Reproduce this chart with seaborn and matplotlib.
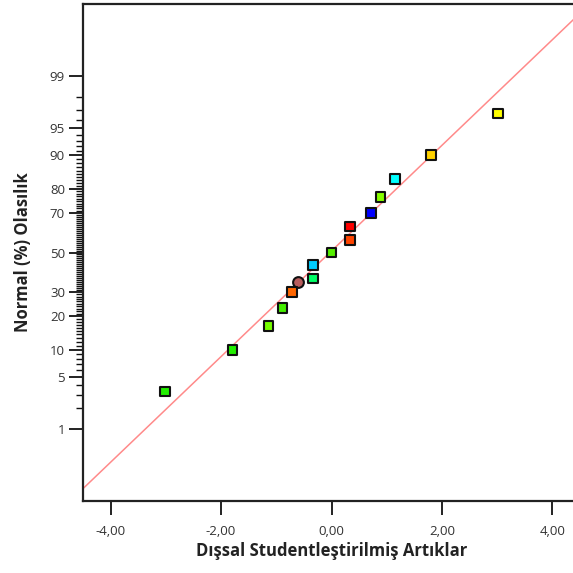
import numpy as np
import pandas as pd
import matplotlib
matplotlib.use("Agg")
import matplotlib.pyplot as plt
import seaborn as sns
from statistics import NormalDist

# ---- data ----
residuals = [3.02, 1.80, 1.15, 0.89, 0.71, 0.34, 0.34, 0.00, -0.34, -0.34,
             -0.60, -0.71, -0.89, -1.14, -1.79, -3.02]
probability = [96.67, 90.0, 83.33, 76.67, 70.0, 63.33, 56.67, 50.0, 43.33, 36.67,
               34.8, 30.0, 23.33, 16.67, 10.0, 3.33]
point_colors = ["#FFFF00", "#FFD200", "#00FFFF", "#88FF00", "#0000FF", "#FF0000",
                "#FF4400", "#55EE00", "#00CCFF", "#00FF66", "#B85C5C", "#FF6600",
                "#44EE00", "#77FF00", "#22EE00", "#22EE00"]
point_markers = ["s"] * 10 + ["o"] + ["s"] * 5

# reference line anchors (x residual, % probability)
line_x = [-4.0, 4.0]
line_p = [0.2855, 99.748]

x_ticks = [-4, -2, 0, 2, 4]
x_ticklabels = ["-4,00", "-2,00", "0,00", "2,00", "4,00"]
y_ticks = [1, 5, 10, 20, 30, 50, 70, 80, 90, 95, 99]
y_minor = list(range(1, 100))

df = pd.DataFrame({"res": residuals, "prob": probability,
                   "color": point_colors, "marker": point_markers})

sns.set_style("white")
plt.rcParams["font.family"] = ["Open Sans", "DejaVu Sans"]

nd = NormalDist()
_ppf = np.vectorize(lambda v: nd.inv_cdf(v / 100.0), otypes=[float])
_cdf = np.vectorize(lambda v: nd.cdf(v) * 100.0, otypes=[float])

def fwd(p):
    p = np.clip(np.asarray(p, dtype=float), 1e-7, 100 - 1e-7)
    return _ppf(p)

def inv(z):
    return _cdf(np.asarray(z, dtype=float))

W = H = 573
fig = plt.figure(figsize=(W / 100, H / 100), dpi=100)
ax = fig.add_axes([83 / W, 1 - 501 / H, (580 - 83) / W, (501 - 4) / H])
ax.set_yscale("function", functions=(fwd, inv))
zlim = 3.275

ax.axline((line_x[0], line_p[0]), (line_x[1], line_p[1]), color="#ff8a8a", lw=1.1, zorder=2)

for mk, sub in df.groupby("marker"):
    sns.scatterplot(data=sub, x="res", y="prob", ax=ax, marker=mk,
                    c=sub["color"].tolist(), s=48 if mk == "s" else 60,
                    edgecolor="#111111", linewidth=1.5, zorder=3, legend=False)

ax.set_xlim(-4.5, 4.5)
ax.set_ylim(nd.cdf(-zlim) * 100, nd.cdf(zlim) * 100)
ax.set_xticks(x_ticks)
ax.set_xticklabels(x_ticklabels)
ax.set_yticks(y_ticks)
ax.set_yticklabels([str(t) for t in y_ticks])
ax.set_yticks(y_minor, minor=True)
ax.yaxis.set_minor_formatter(matplotlib.ticker.NullFormatter())
ax.xaxis.set_minor_locator(matplotlib.ticker.NullLocator())

ax.tick_params(axis="both", which="major", direction="out", length=10, width=1.3,
               color="#111111", labelsize=9.5, labelcolor="#333333", pad=3,
               bottom=True, left=True)
ax.tick_params(axis="y", which="minor", direction="out", length=5, width=1.0,
               color="#111111", left=True)
ax.tick_params(axis="x", pad=7)

for s in ax.spines.values():
    s.set_color("#222222")
    s.set_linewidth(1.6)

ax.set_xlabel("Dışsal Studentleştirilmiş Artıklar", fontsize=12, fontweight="bold",
              color="#222222", labelpad=3)
ax.set_ylabel("Normal (%) Olasılık", fontsize=12, fontweight="bold",
              color="#222222", labelpad=13)

fig.savefig("out.png", dpi=100)
